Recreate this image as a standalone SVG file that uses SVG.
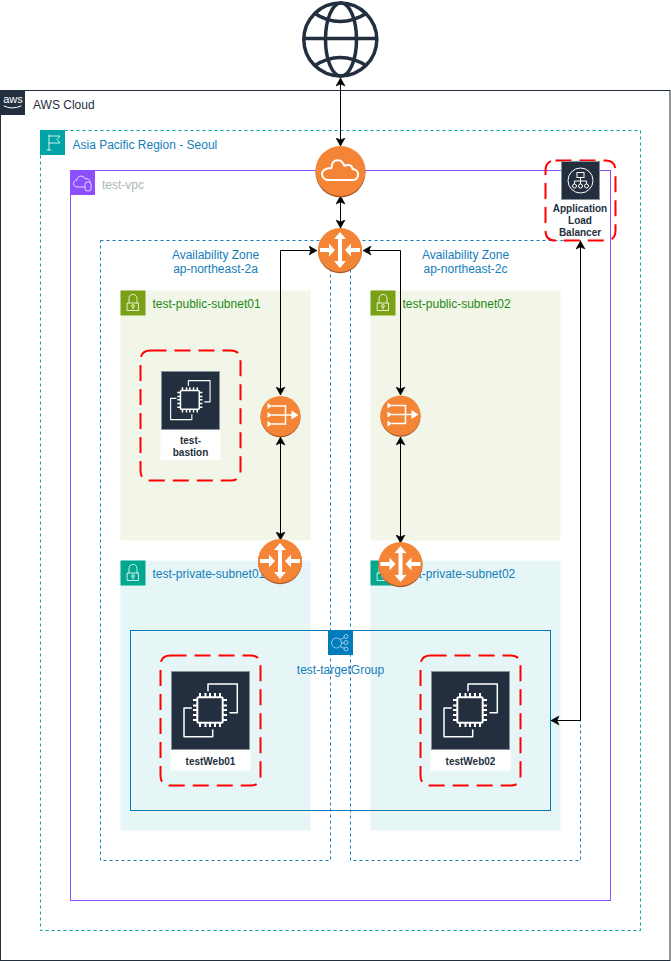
<svg xmlns="http://www.w3.org/2000/svg" width="671" height="961" viewBox="0 0 671 961">
<style>
text{font-family:"Liberation Sans",Arial,Helvetica,sans-serif;font-size:12px}
.blue{fill:#147EBA}
.c{text-anchor:middle}
.nl{font-size:10px;font-weight:bold;fill:#232F3E;text-anchor:middle}
.green{fill:#248814}
.az{fill:none;stroke:#147EBA;stroke-dasharray:3 3}
.region{fill:none;stroke:#00A4A6;stroke-dasharray:3 3}
.pub{fill:#F2F6E8}
.pri{fill:#E6F6F7}
.tag{stroke:none}
.wl{fill:none;stroke:#fff;stroke-linecap:round;stroke-linejoin:round}
.ring{fill:none;stroke:#FF0000;stroke-width:2;stroke-dasharray:16 8}
.conn{fill:none;stroke:#000;stroke-width:1;marker-start:url(#ah);marker-end:url(#ah)}
.ic{fill:#232F3E;stroke:#8A9199;stroke-width:1}
.glabel{fill:#fff}
</style>
<defs>
<marker id="ah" markerUnits="userSpaceOnUse" markerWidth="10" markerHeight="10" viewBox="0 0 9 10" refX="8" refY="5" orient="auto-start-reverse">
<path d="M0 .5 8 5 0 9.5 2 5Z" fill="#000" stroke="#000" stroke-width=".6"/>
</marker>
<g id="router">
<circle cx="0" cy="1.200" r="22" fill="#A9582A"/>
<circle cx="0" cy="0" r="22" fill="#F58536"/>
<path fill="#fff" d="M0-18 6-11H2V11H6L0 18-6 11H-2V-11H-6ZM-20-2H-11V-6.500L-5 0-11 6.500V2H-20ZM20-2H11V-6.500L5 0 11 6.500V2H20Z"/>
</g>
<g id="nat">
<circle cx="0" cy="1.200" r="20" fill="#A9582A"/>
<circle cx="0" cy="0" r="20" fill="#F58536"/>
<path fill="#fff" d="M-13-13-8.500-10-13-7ZM-13-4-8.500-1-13 2ZM-13 5-8.500 8-13 11ZM11-5.500 18-1 11 3.500Z"/>
<path fill="none" stroke="#fff" stroke-width="1.500" d="M-9-10H5V8H-9M-9-1H12"/>
</g>
<g id="ec2i">
<path class="wl" stroke-width="1.500" d="M37 19.700V13H66.300V41.700H59M20.300 37H13V65.700H41.700V59"/>
<rect x="26.300" y="26.300" width="25.400" height="25.400" rx="1.500" fill="none" stroke="#fff" stroke-width="2"/>
<path fill="none" stroke="#fff" stroke-width="2" d="M29 22v4M34.500 22v4M39 22v4M44 22v4M49 22v4M29 52v4M34.500 52v4M39 52v4M44 52v4M49 52v4M22 29h4M22 34.500h4M22 39h4M22 44h4M22 49h4M52 29h4M52 34.500h4M52 39h4M52 44h4M52 49h4"/>
</g>
<g id="lock">
<rect width="25" height="25" class="tag" fill-opacity="0"/>
<path class="wl" stroke-width=".8" d="M7 12.500H18V20H7ZM8.500 12.500V8C8.500 2.500 16.500 2.500 16.500 8V12.500"/>
<circle cx="12.500" cy="15.500" r="1.400" fill="none" stroke="#fff" stroke-width=".8"/>
<path class="wl" stroke-width=".8" d="M12.500 17V18.500"/>
</g>
</defs>
<rect width="671" height="961" fill="#fff"/>

<g id="aws-cloud">
<rect x="0.500" y="90.500" width="669.500" height="870" fill="none" stroke="#232F3E"/>
<rect x="0" y="90" width="25" height="25" fill="#232F3E"/>
<text x="13" y="103" class="c" style="font-size:11px" fill="#fff">aws</text>
<path class="wl" stroke-width="1" d="M4 106Q12 110 21 106"/>
<text x="33" y="109" fill="#232F3E">AWS Cloud</text>
</g>
<g id="region">
<rect x="40.500" y="130.500" width="600" height="800" class="region"/>
<rect x="40" y="130" width="25" height="25" fill="#00A4A6"/>
<path class="wl" stroke-width=".8" d="M49 150V135M49 136H60L57 139.500 60 143H49M47 150H51"/>
<text x="72.500" y="149" class="blue">Asia Pacific Region - Seoul</text>
</g>
<g id="vpc">
<rect x="70.500" y="170.500" width="540" height="730" fill="none" stroke="#8C4FFF"/>
<rect x="70" y="170" width="25" height="25" fill="#8C4FFF"/>
<path class="wl" stroke-width=".8" d="M84 187H77C72 187 73 180 77 180C77 175 84 175 85 179C88 178 90 180 90 182"/>
<rect x="85" y="182" width="6" height="9" rx="2.500" fill="none" stroke="#fff" stroke-width=".8"/>
<text x="102" y="189" fill="#AAB7B8">test-vpc</text>
</g>
<g id="az-a">
<rect x="100.500" y="240.500" width="230" height="620" class="az"/>
<text x="215.500" y="259" class="blue c">Availability Zone</text>
<text x="215.500" y="273" class="blue c">ap-northeast-2a</text>
</g>
<g id="az-c">
<rect x="350.500" y="240.500" width="230" height="620" class="az"/>
<text x="465.500" y="259" class="blue c">Availability Zone</text>
<text x="465.500" y="273" class="blue c">ap-northeast-2c</text>
</g>
<g id="public-subnet-01">
<rect x="120.500" y="290.500" width="190" height="250" class="pub"/>
<rect x="120.500" y="290.500" width="25" height="25" fill="#7AA116"/>
<use href="#lock" x="120.500" y="290.500"/>
<text x="152.500" y="308" class="green">test-public-subnet01</text>
</g>
<g id="public-subnet-02">
<rect x="370.500" y="290.500" width="190" height="250" class="pub"/>
<rect x="370.500" y="290.500" width="25" height="25" fill="#7AA116"/>
<use href="#lock" x="370.500" y="290.500"/>
<text x="402.500" y="308" class="green">test-public-subnet02</text>
</g>
<g id="private-subnet-01">
<rect x="120.500" y="560.500" width="190" height="270" class="pri"/>
<rect x="120.500" y="560.500" width="25" height="25" fill="#01A88D"/>
<use href="#lock" x="120.500" y="560.500"/>
<text x="152.500" y="578" class="blue">test-private-subnet01</text>
</g>
<g id="private-subnet-02">
<rect x="370.500" y="560.500" width="190" height="270" class="pri"/>
<rect x="370.500" y="560.500" width="25" height="25" fill="#01A88D"/>
<use href="#lock" x="370.500" y="560.500"/>
<text x="402.500" y="578" class="blue">test-private-subnet02</text>
</g>
<g id="target-group">
<rect x="130.500" y="630.500" width="420" height="180" fill="none" stroke="#007CBD"/>
<rect x="328" y="630" width="25" height="25" fill="#007CBD"/>
<g fill="none" stroke="#fff" stroke-width=".7" opacity=".85">
<circle cx="336.500" cy="643" r="5"/><circle cx="346" cy="636.500" r="2"/><circle cx="346" cy="642.500" r="2"/><circle cx="346" cy="649" r="2"/>
<path d="M340 639.500 344.500 637.500M341.500 643H344M340 646.500 344.500 648.500"/>
</g>
<text x="340.500" y="674" class="blue c">test-targetGroup</text>
</g>

<g id="connectors">
<path class="conn" d="M340.500 78V146"/>
<path class="conn" d="M340.500 196V228"/>
<path class="conn" d="M317 250.500H280.500V395"/>
<path class="conn" d="M363 250.500H400.500V395"/>
<path class="conn" d="M280.500 437V540"/>
<path class="conn" d="M400.500 437V543"/>
<path class="conn" d="M580.500 241V720.500H551"/>
</g>

<g id="internet">
<g fill="none" stroke="#232F3E" stroke-width="3.500">
<circle cx="340.300" cy="39.500" r="36.500"/>
<ellipse cx="341" cy="39.500" rx="15.500" ry="36.500"/>
<path d="M304 38.500H377M314 13Q340 30 367 13M314 66Q340 49 367 66"/>
</g>
</g>
<g id="internet-gateway">
<circle cx="340.500" cy="172.500" r="25" fill="#A9582A"/>
<circle cx="340.500" cy="171" r="25" fill="#F58536"/>
<path class="wl" stroke-width="2" transform="translate(340.500 172)" d="M-12 8H12C19 8 20-2 12-3 12-7 7-8 4-6 1-14-9-14-9-4-15-4-20-1-18 4-17 7-15 8-12 8Z"/>
</g>
<g id="router-top"><use href="#router" x="340" y="250"/></g>
<g id="nat-a"><use href="#nat" x="280.500" y="416"/></g>
<g id="nat-c"><use href="#nat" x="400.500" y="415.500"/></g>
<g id="router-a"><use href="#router" x="280" y="561"/></g>
<g id="router-c"><use href="#router" x="400.500" y="564"/></g>

<g id="alb">
<path class="ring" d="M555.500 160.500H605.500Q615.500 160.500 615.500 170.500V230.500Q615.500 240.500 605.500 240.500H555.500Q545.500 240.500 545.500 230.500V170.500Q545.500 160.500 555.500 160.500Z"/>
<rect x="561.500" y="161.500" width="38" height="38" class="ic"/>
<g fill="none" stroke="#fff" stroke-width="1">
<circle cx="580.500" cy="180.500" r="12.500"/>
<rect x="577" y="172.500" width="7" height="5"/>
<path d="M580.500 177.500V181M574.500 184V181H586.500V184M580.500 181V184"/>
<circle cx="574.500" cy="186" r="2"/><circle cx="586.500" cy="186" r="2"/><circle cx="580.500" cy="186" r="2"/>
</g>
<text x="580" y="211.500" class="nl">Application</text>
<text x="580" y="223.500" class="nl">Load</text>
<text x="580" y="235.500" class="nl">Balancer</text>
</g>
<g id="test-bastion">
<path class="ring" d="M150.500 350.500H230.500Q240.500 350.500 240.500 360.500V470.500Q240.500 480.500 230.500 480.500H150.500Q140.500 480.500 140.500 470.500V360.500Q140.500 350.500 150.500 350.500Z"/>
<rect x="160.500" y="430" width="60" height="30" fill="#fff"/>
<rect x="161.500" y="371.500" width="58" height="58" class="ic"/>
<g transform="translate(161 371) scale(.74)"><use href="#ec2i"/></g>
<text x="190.500" y="443.500" class="nl">test-</text>
<text x="190.500" y="455.500" class="nl">bastion</text>
</g>
<g id="testWeb01">
<path class="ring" d="M170.500 655.500H250.500Q260.500 655.500 260.500 665.500V775.500Q260.500 785.500 250.500 785.500H170.500Q160.500 785.500 160.500 775.500V665.500Q160.500 655.500 170.500 655.500Z"/>
<rect x="170.500" y="750" width="80" height="20.500" fill="#fff"/>
<rect x="171.500" y="671.500" width="78" height="78" class="ic"/>
<use href="#ec2i" x="171" y="671"/>
<text x="210.500" y="765" class="nl">testWeb01</text>
</g>
<g id="testWeb02">
<path class="ring" d="M430.500 655.500H510.500Q520.500 655.500 520.500 665.500V775.500Q520.500 785.500 510.500 785.500H430.500Q420.500 785.500 420.500 775.500V665.500Q420.500 655.500 430.500 655.500Z"/>
<rect x="430.500" y="750" width="80" height="20.500" fill="#fff"/>
<rect x="431.500" y="671.500" width="78" height="78" class="ic"/>
<use href="#ec2i" x="431" y="671"/>
<text x="470.500" y="765" class="nl">testWeb02</text>
</g>
</svg>
